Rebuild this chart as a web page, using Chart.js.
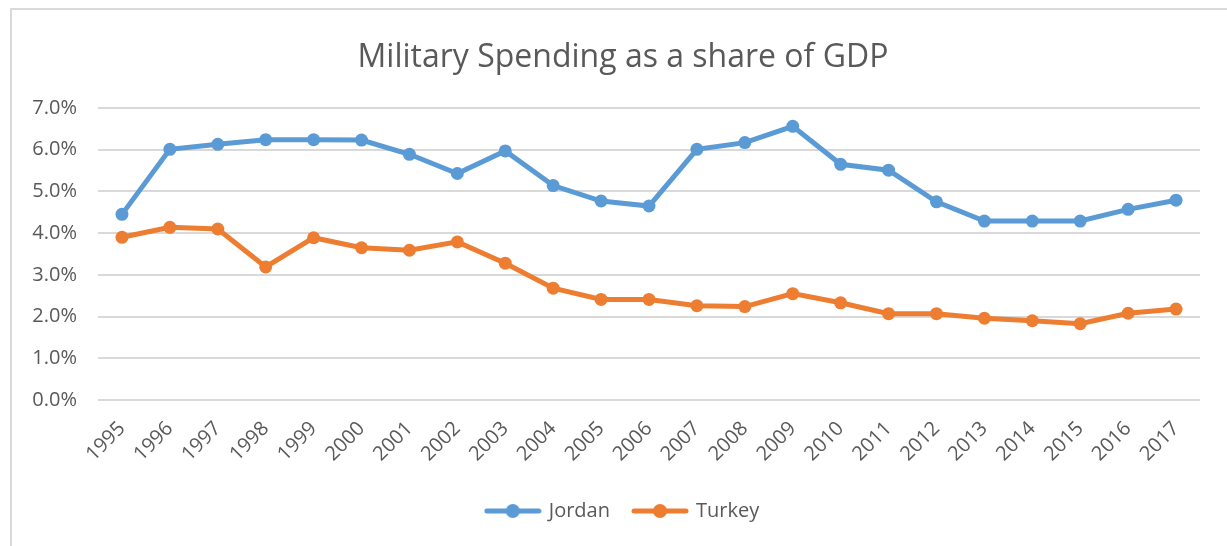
<!DOCTYPE html>
<html>
<head>
<meta charset="utf-8">
<script src="https://cdn.jsdelivr.net/npm/chart.js@4.4.1/dist/chart.umd.min.js"></script>
<style>
  html, body { margin: 0; padding: 0; background: #fff; }
  #wrap { position: relative; width: 1227px; height: 546px; }
  #frame {
    position: absolute; left: 10px; top: 8px; right: -4px; bottom: -4px;
    border-top: 2px solid #d9d9d9; border-left: 2px solid #d9d9d9;
  }
  canvas { position: absolute; left: 0; top: 0; }
</style>
</head>
<body>
<div id="wrap">
  <div id="frame"></div>
  <canvas id="chart" width="1227" height="546"></canvas>
</div>
<script>
const years = ["1995", "1996", "1997", "1998", "1999", "2000", "2001", "2002", "2003", "2004", "2005", "2006",
  "2007", "2008", "2009", "2010", "2011", "2012", "2013", "2014", "2015", "2016", "2017"];

// share of GDP, in percent
const jordan = [4.45, 6.01, 6.13, 6.24, 6.24, 6.23, 5.89, 5.43, 5.97, 5.14, 4.77, 4.65,
  6.01, 6.17, 6.56, 5.65, 5.51, 4.75, 4.29, 4.29, 4.29, 4.57, 4.79];
const turkey = [3.90, 4.14, 4.10, 3.19, 3.89, 3.65, 3.59, 3.79, 3.28, 2.68, 2.41, 2.41,
  2.26, 2.24, 2.55, 2.33, 2.07, 2.07, 1.96, 1.90, 1.83, 2.08, 2.18];

const yTicks = [0, 1, 2, 3, 4, 5, 6, 7];

const blue = "#5b9bd5";
const orange = "#ed7d31";
const textGray = "#595959";
const gridGray = "#d9d9d9";
const font = "'Open Sans', 'Noto Sans', sans-serif";

// little line-with-dot picture used as the legend marker
function legendMarker(color) {
  const c = document.createElement("canvas");
  c.width = 58;
  c.height = 16;
  const g = c.getContext("2d");
  g.strokeStyle = color;
  g.lineWidth = 5;
  g.lineCap = "round";
  g.beginPath();
  g.moveTo(3, 8);
  g.lineTo(55, 8);
  g.stroke();
  g.fillStyle = color;
  g.beginPath();
  g.arc(29, 8, 7, 0, Math.PI * 2);
  g.fill();
  return c;
}

const markers = [legendMarker(blue), legendMarker(orange)];

// title and legend sit centred on the framed box, a bit right of the plot centre
const nudgeCentre = {
  id: "nudgeCentre",
  afterLayout(chart) {
    for (const box of [chart.titleBlock, chart.legend]) {
      if (!box) continue;
      box.left += 13;
      box.right += 13;
    }
  },
};

const ctx = document.getElementById("chart").getContext("2d");

new Chart(ctx, {
  type: "line",
  data: {
    labels: years,
    datasets: [
      {
        label: "Jordan",
        data: jordan,
        borderColor: blue,
        backgroundColor: blue,
        borderWidth: 5,
        pointRadius: 6.5,
        pointBorderWidth: 0,
        tension: 0,
      },
      {
        label: "Turkey",
        data: turkey,
        borderColor: orange,
        backgroundColor: orange,
        borderWidth: 5,
        pointRadius: 6.5,
        pointBorderWidth: 0,
        tension: 0,
      },
    ],
  },
  options: {
    responsive: false,
    animation: false,
    devicePixelRatio: 1,
    layout: { padding: { left: 20, right: 27, top: 0, bottom: 15 } },
    scales: {
      x: {
        offset: true,
        grid: { display: false, drawTicks: false },
        border: { display: false },
        ticks: {
          minRotation: 45,
          maxRotation: 45,
          autoSkip: false,
          padding: 17,
          color: textGray,
          font: { family: font, size: 20 },
        },
        afterFit: (scale) => { scale.height = 77; },
      },
      y: {
        min: 0,
        max: 7,
        afterBuildTicks: (scale) => {
          scale.ticks = yTicks.map((v) => ({ value: v }));
        },
        grid: { color: gridGray, lineWidth: 2, drawTicks: false },
        border: { display: false },
        ticks: {
          padding: 21,
          color: textGray,
          font: { family: font, size: 20 },
          callback: (v) => v.toFixed(1) + "%",
        },
        afterFit: (scale) => { scale.width = 78; },
      },
    },
    plugins: {
      title: {
        display: true,
        text: "Military Spending as a share of GDP",
        color: textGray,
        font: { family: font, size: 32, weight: "normal", lineHeight: 1.2 },
        padding: { top: 39, bottom: 30.6 },
      },
      legend: {
        position: "bottom",
        labels: {
          usePointStyle: true,
          pointStyleWidth: 52,
          padding: 24,
          color: textGray,
          font: { family: font, size: 20 },
          generateLabels: (chart) =>
            chart.data.datasets.map((ds, i) => ({
              text: ds.label,
              pointStyle: markers[i],
              fontColor: textGray,
              strokeStyle: ds.borderColor,
              fillStyle: ds.backgroundColor,
              lineWidth: 0,
              datasetIndex: i,
              hidden: false,
            })),
        },
      },
      tooltip: { enabled: false },
    },
  },
  plugins: [nudgeCentre],
});
</script>
</body>
</html>
